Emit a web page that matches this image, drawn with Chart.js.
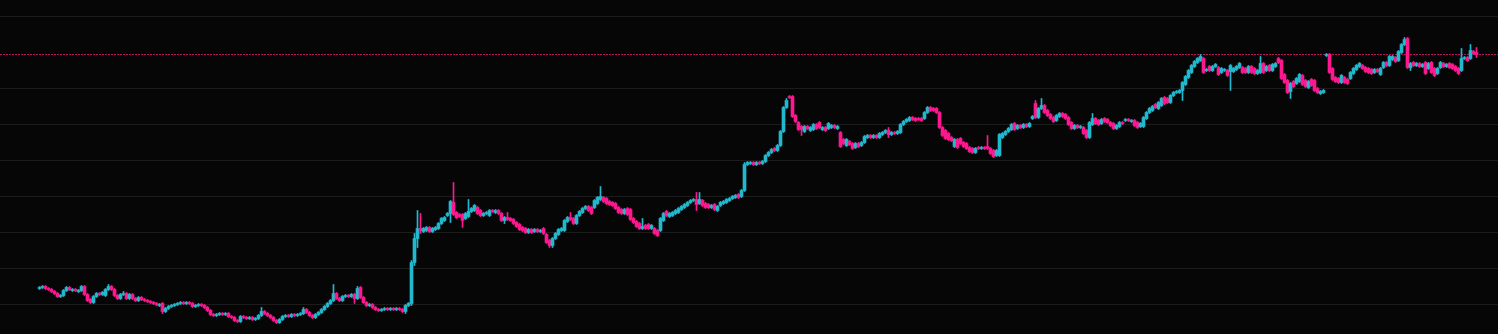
<!DOCTYPE html>
<html>
<head>
<meta charset="utf-8">
<script src="https://cdn.jsdelivr.net/npm/chart.js@4.4.1/dist/chart.umd.min.js"></script>
<style>
html,body{margin:0;padding:0;background:#060606;overflow:hidden;}
#wrap{width:1498px;height:334px;position:relative;}
canvas{display:block;}
</style>
</head>
<body>
<div id="wrap"><canvas id="c" width="1498" height="334"></canvas></div>
<script>
// Candle values (price units), oldest first
const open = [
52,53,54,52,51,49,47,44,45,50, 53,50,51,49,50,54,46,41,38,44,
47,46,45,51,54,51,45,42,46,47, 42,46,42,40,43,41,40,39,38,37,
35,37,29,32,34,35,36,37,38,37, 38,37,34,35,36,35,33,30,26,25,
26,27,26,27,24,23,20,19,24,23, 22,23,21,22,25,29,27,25,23,20,
18,21,24,25,24,26,25,26,27,31, 28,25,23,26,28,31,34,37,40,47,
42,40,44,45,44,46,42,53,43,38, 35,36,33,31,30,31,32,31,32,31,
32,31,29,35,37,78,102,112,109,110, 113,109,111,112,117,120,125,127,138,128,
126,126,122,124,129,130,133,130,125,127, 125,130,128,130,127,120,123,122,121,118,
116,113,112,108,111,109,111,109,112,106, 100,95,102,106,110,110,119,123,122,117,
125,128,132,134,133,133,137,141,143,142, 139,138,137,133,131,127,132,131,122,119,
117,112,115,116,112,112,110,110,120,129, 124,125,127,128,131,133,135,138,140,141,
137,140,137,136,133,136,130,135,137,138, 140,142,143,146,144,150,176,177,178,176,
178,177,179,185,188,192,190,195,209,233, 244,244,225,218,214,209,214,210,211,216,
218,211,213,212,213,215,212,208,201,195, 199,197,193,197,195,198,203,205,203,205,
203,206,208,210,206,208,207,208,216,219, 220,223,222,222,222,222,228,233,232,232,
228,213,210,207,203,194,201,202,198,197, 193,192,188,193,192,193,194,192,190,185,
185,203,206,209,211,217,212,215,213,216, 214,222,237,223,232,235,230,226,223,220,
224,227,226,223,218,212,215,213,213,210, 203,216,222,220,217,222,221,218,217,212,
214,218,220,221,219,220,218,214,214,222, 228,230,236,232,235,243,242,238,245,248,
248,250,256,263,268,274,278,280,282,270, 274,270,274,273,268,270,270,269,269,271,
273,273,272,268,274,272,267,268,277,270, 275,270,274,282,280,266,260,249,259,257,
259,265,260,253,261,260,252,247,248,285, 286,272,263,262,258,263,261,262,267,271,
274,275,273,272,271,268,271,266,273,278, 275,281,283,280,288,296,302,273,278,275,
277,274,278,272,278,272,267,273,277,274, 277,276,274,272,270,282,283,282,289,288
];
const high = [
54,55,55,53,52,50,48,46,51,54, 54,52,52,51,55,55,47,42,45,48,
48,49,52,56,55,52,46,47,49,48, 47,47,43,44,44,42,41,40,39,38,
37,38,33,35,36,37,38,39,39,39, 39,38,36,37,37,36,34,31,27,27,
28,28,28,28,25,24,21,25,25,24, 24,24,23,26,33,30,28,26,24,21,
22,25,26,26,27,27,27,28,33,32, 29,26,27,29,32,35,38,41,56,48,
43,45,46,46,47,47,54,54,44,39, 37,37,34,32,32,33,33,33,33,33,
33,32,36,38,80,107,130,127,113,114, 114,113,114,118,123,124,128,140,158,129,
127,127,128,141,133,136,134,131,128,129, 131,131,131,131,128,124,128,123,122,119,
117,114,113,112,112,112,112,111,113,107, 101,103,108,112,113,121,124,128,123,126,
130,133,135,135,134,141,144,154,144,143, 140,139,138,134,132,132,133,132,123,120,
118,122,116,117,116,113,111,123,128,130, 128,129,131,133,135,137,139,141,142,148,
148,141,138,137,136,137,135,139,140,142, 143,145,146,147,151,178,179,179,179,179,
179,180,186,189,192,193,196,210,234,242, 245,245,226,219,215,215,215,214,217,217,
219,214,214,218,216,216,215,209,202,202, 200,198,198,198,199,205,206,206,206,206,
208,209,211,213,209,209,210,217,220,222, 224,224,223,223,223,229,234,234,233,233,
229,214,211,208,204,202,202,203,199,198, 194,193,193,194,194,194,205,193,191,191,
207,208,210,213,217,218,216,216,217,217, 218,225,240,233,242,236,231,227,224,226,
228,228,227,224,219,216,216,215,214,211, 219,227,223,221,222,223,222,219,218,216,
219,219,222,222,221,221,219,218,224,229, 233,235,237,239,243,244,243,246,249,250,
251,259,265,271,276,280,283,286,283,272, 275,275,277,274,273,272,271,276,273,275,
278,274,273,275,275,273,271,284,278,275, 276,277,278,283,281,267,261,258,260,263,
267,266,261,260,262,261,253,250,251,287, 287,273,264,263,266,264,262,269,273,276,
278,276,274,273,272,272,272,273,279,279, 285,285,284,290,297,303,303,278,279,278,
278,277,279,278,279,273,273,279,278,277, 278,277,275,273,292,284,284,296,290,293
];
const low = [
51,52,51,50,48,46,43,43,44,49, 50,49,49,48,49,45,39,37,37,43,
45,45,44,50,50,44,41,41,45,41, 41,41,39,39,40,39,38,37,36,35,
34,27,28,31,33,34,35,36,36,36, 36,33,33,34,34,32,29,25,24,24,
25,25,25,23,22,19,18,18,22,21, 21,20,20,21,24,26,24,22,19,17,
17,20,23,23,23,24,24,25,26,27, 24,22,22,25,27,30,33,36,39,41,
39,39,43,43,43,37,41,42,37,34, 34,32,30,29,29,30,30,30,30,30,
30,28,27,34,35,75,93,107,108,109, 108,108,110,111,116,119,124,118,125,122,
123,113,121,123,128,129,126,124,124,126, 124,128,127,126,119,117,120,119,116,113,
110,109,107,107,107,108,108,108,106,97, 93,93,101,105,109,109,118,120,116,116,
124,127,131,129,126,132,136,140,138,136, 135,134,131,127,126,126,125,120,117,113,
111,111,111,111,111,106,104,109,119,124, 123,124,126,127,130,132,134,137,139,130,
136,134,132,132,132,130,129,134,136,137, 139,141,142,142,143,149,175,176,175,175,
176,176,178,184,187,189,189,194,208,232, 242,223,218,210,205,208,211,209,210,211,
212,210,209,211,212,212,211,193,196,194, 195,191,192,193,194,197,202,202,202,202,
202,205,207,203,205,206,206,207,215,218, 219,220,219,220,219,221,227,229,229,227,
212,204,201,200,199,193,192,196,193,191, 188,187,187,191,191,191,191,186,183,184,
184,202,205,208,210,210,211,212,212,213, 213,221,222,222,231,227,224,221,218,219,
223,223,221,215,211,211,212,212,206,202, 202,215,216,215,216,218,217,214,211,211,
213,216,219,219,218,214,212,213,213,221, 227,229,232,231,234,236,237,237,244,247,
247,240,255,262,267,273,277,279,267,269, 269,269,273,265,267,269,264,250,268,270,
272,267,267,267,267,266,266,267,267,269, 269,269,273,277,261,257,247,242,253,256,
258,255,253,252,254,249,247,246,247,284, 267,260,258,257,257,257,256,261,266,270,
273,271,268,267,266,267,268,265,272,274, 274,280,278,279,287,295,272,270,274,274,
273,273,266,271,267,264,266,272,273,273, 272,271,269,266,269,281,279,281,286,283
];
const close = [
53,54,52,51,49,47,44,45,50,53, 51,51,50,50,54,46,40,38,44,47,
46,48,51,54,51,45,42,46,47,42, 46,42,40,43,41,40,39,38,37,36,
36,29,32,34,35,36,37,38,37,38, 37,34,35,36,35,33,30,26,25,26,
27,26,27,24,23,20,19,24,23,22, 23,21,22,25,29,27,25,23,20,18,
21,24,25,24,26,25,26,27,31,28, 25,23,26,28,31,34,37,40,47,42,
40,44,45,44,46,42,52,43,38,35, 36,33,31,30,31,32,31,32,31,32,
31,29,35,37,78,102,112,110,112,113, 109,112,113,117,122,123,127,139,126,123,
124,120,127,129,132,135,127,125,127,128, 130,129,130,127,120,123,121,120,117,114,
111,110,108,111,108,111,109,110,107,98, 95,102,107,111,112,120,123,121,117,125,
129,132,134,130,127,140,143,144,139,137, 136,135,132,128,127,131,126,121,118,114,
112,114,112,112,115,107,105,122,127,125, 127,128,130,132,134,136,138,140,141,136,
141,135,133,133,135,131,134,138,139,141, 142,144,145,143,150,176,178,178,176,178,
177,179,185,188,191,190,195,209,233,240, 243,224,219,211,211,214,212,213,216,212,
213,213,210,217,215,213,214,194,197,201, 196,192,197,194,198,204,205,203,205,203,
207,208,210,206,208,207,209,216,219,221, 223,221,220,221,220,228,233,230,230,228,
213,205,202,201,200,201,193,197,194,192, 189,188,192,192,193,192,192,187,184,190,
206,207,209,212,216,211,215,213,216,214, 217,224,223,232,235,228,225,222,219,225,
227,224,222,216,212,215,213,214,207,203, 218,222,217,216,221,219,218,215,212,215,
218,217,221,220,220,215,213,217,223,228, 232,234,233,238,242,237,238,245,248,249,
250,258,264,270,275,279,282,284,268,271, 270,274,276,266,272,271,265,275,272,274,
277,268,268,274,268,267,270,277,268,274, 270,276,277,278,262,258,248,257,254,262,
266,256,254,259,255,250,248,249,250,286, 268,261,259,258,265,258,257,268,272,275,
277,272,269,268,267,271,269,272,278,275, 284,284,279,289,296,301,273,277,275,277,
274,276,267,277,268,265,272,278,274,276, 273,272,270,267,282,283,280,290,287,286
];
// Horizontal grid lines visible in the picture (no labels shown)
const gridLevels = [36, 72, 108, 144, 180, 216, 252, 324];
// Candle positions (sequence index)
const candleIndex = close.map((_, i) => i);

const UP = '#22b9cf';
const DOWN = '#ff1790';
const lastPrice = close[close.length - 1];
const X_MIN = -13 - 1 / 6, X_MAX = X_MIN + 1498 / 3;

const colors = candleIndex.map(i => close[i] >= open[i] ? UP : DOWN);

const wickData = candleIndex.map(i => ({ x: i, y: [low[i], high[i]] }));
const bodyData = candleIndex.map(i => ({ x: i, y: [open[i], close[i]] }));

const bgPlugin = {
  id: 'bg',
  beforeDraw(chart) {
    const ctx = chart.ctx;
    ctx.save();
    ctx.fillStyle = '#060606';
    ctx.fillRect(0, 0, chart.width, chart.height);
    ctx.restore();
  }
};

new Chart(document.getElementById('c'), {
  type: 'bar',
  data: {
    datasets: [
      {
        type: 'line',
        data: [{ x: X_MIN, y: lastPrice }, { x: X_MAX, y: lastPrice }],
        borderColor: '#b3125c',
        borderWidth: 1,
        borderDash: [2, 1],
        pointRadius: 0,
        fill: false,
        order: 3
      },
      {
        data: wickData,
        backgroundColor: colors,
        borderWidth: 0,
        barThickness: 1,
        grouped: false,
        minBarLength: 1,
        order: 2
      },
      {
        data: bodyData,
        backgroundColor: colors,
        borderWidth: 0,
        barThickness: 3,
        grouped: false,
        minBarLength: 1,
        order: 1
      }
    ]
  },
  options: {
    responsive: false,
    animation: false,
    devicePixelRatio: 1,
    layout: { padding: 0 },
    plugins: { legend: { display: false }, tooltip: { enabled: false } },
    scales: {
      x: {
        type: 'linear',
        min: X_MIN,
        max: X_MAX,
        offset: false,
        display: false,
        grid: { display: false }
      },
      y: {
        type: 'linear',
        min: 6.5,
        max: 340.5,
        display: true,
        afterBuildTicks(scale) { scale.ticks = gridLevels.map(v => ({ value: v })); },
        ticks: { display: false },
        grid: { color: '#1c1c1c', lineWidth: 1, drawTicks: false },
        border: { display: false }
      }
    }
  },
  plugins: [bgPlugin]
});
</script>
</body>
</html>
